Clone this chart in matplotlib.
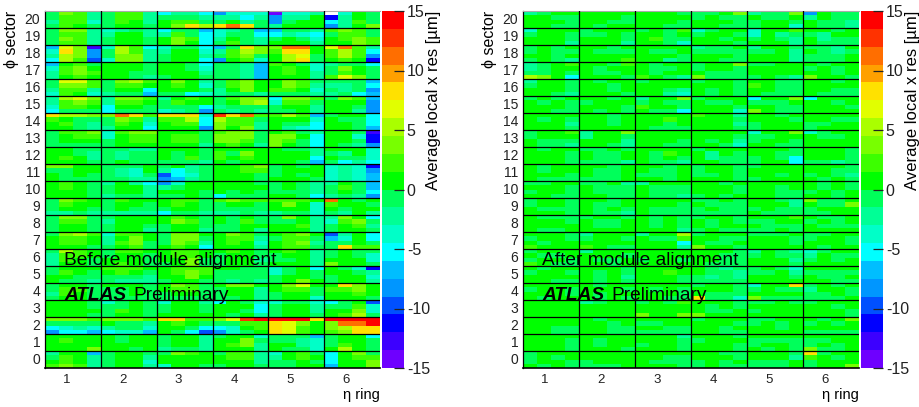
import numpy as np
import matplotlib
matplotlib.use('Agg')
import matplotlib.pyplot as plt
from matplotlib.colors import ListedColormap, BoundaryNorm
from matplotlib.transforms import ScaledTranslation

plt.rcParams['font.family'] = ['Liberation Sans', 'DejaVu Sans']
plt.rcParams['axes.unicode_minus'] = False

rings = [1, 2, 3, 4, 5, 6]
sectors = list(range(21))
bar_ticks = [-15, -10, -5, 0, 5, 10, 15]
bar_levels = [-15, -13.5, -12, -10.5, -9, -7.5, -6, -4.5, -3, -1.5, 0, 1.5, 3, 4.5, 6, 7.5, 9, 10.5, 12, 13.5, 15]
bar_colors = ['#6e00ff', '#3c00ff', '#0000ff', '#0050ff', '#0096ff', '#00beff', '#00ffff', '#00ffc8', '#00ff96', '#00ff5a',
              '#00ff00', '#3cff00', '#78ff00', '#aaff00', '#e1ff00', '#ffe100', '#ffa000', '#ff6e00', '#ff3200', '#ff0000']

# sector 20 first, then per ring its four rows from the top down
before_cells = [
    [[[-1,3,2,-2],[-1,2,2,-2],[-2,2,2,-4],[-1,2,0,-1]],[[-1,2,2,-2],[-1,2,2,-2],[-1,2,0,-2],[-1,0,0,-1]],[[-5,-2,-2,-5],[-1,-1,-1,-2],[0,2,2,-1],[0,3,8,5]],[[-8,-4,-4,-4],[-2,-2,-5,-2],[-1,0,-2,-1],[8,11,8,-1]],[[-14,-4,-4,-2],[-8,-2,-2,0],[-8,-1,0,0],[-2,0,0,0]],[[16,-4,0,-1],[-11,-2,0,-1],[-5,-2,2,-1],[-8,-2,0,3]]],
    [[[-1,3,3,-2],[-1,2,2,-2],[-1,3,2,-2],[-1,2,2,-2]],[[-4,-2,-1,-2],[-2,0,0,-2],[-1,0,0,-1],[-1,0,0,-1]],[[-5,-1,-1,-7],[-2,2,-1,-5],[0,3,2,-5],[0,3,0,-5]],[[-4,-2,-1,-7],[-4,-1,-1,-5],[-2,0,-1,-2],[-1,2,-1,-2]],[[-7,-1,-1,-2],[-5,-2,-4,-5],[-1,0,-1,-4],[0,0,0,-2]],[[2,3,2,-1],[-1,2,2,-1],[0,2,3,2],[0,0,3,2]]],
    [[[-7,7,3,-13],[-4,8,3,-8],[-2,5,3,-8],[-5,5,2,-10]],[[-4,5,2,-5],[-1,5,2,-2],[-1,3,3,-2],[-4,3,3,-2]],[[-4,-1,-1,-5],[-2,0,0,-4],[-1,0,0,-2],[-1,0,0,-5]],[[-7,-1,8,3],[-2,2,5,3],[-1,2,3,-1],[-8,0,2,-4]],[[3,11,11,0],[2,8,8,0],[0,5,7,-1],[0,5,8,-1]],[[7,11,2,-2],[2,5,2,-5],[2,5,2,-8],[0,2,0,-11]]],
    [[[-7,0,2,-1],[-4,2,3,0],[-2,2,3,2],[-2,0,2,0]],[[0,0,0,-1],[0,0,0,-1],[0,0,-1,-1],[0,0,-1,-2]],[[0,0,-1,-5],[0,0,-1,-4],[0,0,0,-2],[-1,0,0,-1]],[[-1,-1,-2,-7],[-1,-1,-2,-7],[-1,-1,-2,-7],[-1,-1,-2,-7]],[[2,0,-1,-4],[0,2,0,-4],[0,2,0,-2],[0,0,0,-2]],[[-2,-1,-1,-5],[-1,3,0,-1],[-1,2,0,-1],[2,7,3,-1]]],
    [[[-1,7,7,2],[-1,3,3,2],[-2,2,2,-2],[-4,2,0,-4]],[[-1,3,5,2],[-1,2,2,0],[-1,0,0,-5],[-2,-1,-1,-7]],[[0,3,0,-2],[0,2,0,-4],[0,0,0,-1],[-1,-1,-5,-4]],[[-1,2,3,0],[-1,2,3,0],[-2,0,3,0],[-2,-1,-1,-2]],[[0,3,2,-1],[0,3,2,-2],[2,2,0,-4],[-1,-1,-1,-2]],[[-1,-1,-1,-7],[-2,-2,-1,-5],[-1,-2,-1,-8],[-2,-1,-5,-7]]],
    [[[-2,5,7,3],[-2,2,3,2],[-4,2,2,0],[-5,-1,-1,-1]],[[-2,3,3,2],[-2,2,2,0],[-5,0,0,-1],[-5,-1,-1,-1]],[[-2,0,2,0],[-1,2,0,0],[-1,-1,-1,-5],[-4,-2,-1,-8]],[[-1,2,3,3],[-1,0,3,5],[-2,-1,-1,-1],[-1,-2,-1,-2]],[[-5,3,3,2],[-4,2,2,-1],[-1,0,0,-2],[-1,-1,0,-2]],[[-1,3,2,-7],[0,0,0,-8],[0,0,-1,-8],[0,0,-2,-8]]],
    [[[8,5,5,3],[2,0,-1,-1],[0,2,-1,-2],[0,0,-1,-2]],[[3,11,8,2],[-1,3,2,-2],[-1,2,0,-4],[-2,0,0,-5]],[[8,8,8,-4],[2,2,5,-5],[0,2,2,-5],[0,0,0,-8]],[[13,8,11,2],[5,2,2,-1],[3,2,2,-2],[3,0,3,-2]],[[2,5,2,-7],[0,0,0,-4],[0,-1,-1,-5],[0,-2,-4,-5]],[[-1,0,0,-5],[0,-1,-1,-5],[0,0,-1,-5],[0,0,-1,-7]]],
    [[[-1,2,2,3],[-1,0,2,2],[-1,0,0,0],[-1,-1,-1,-1]],[[-4,2,3,3],[-4,0,2,2],[-1,0,2,2],[-1,0,0,0]],[[0,0,0,-1],[0,2,2,-1],[0,2,2,-1],[0,0,0,-2]],[[2,3,3,-1],[3,3,3,-1],[4,3,2,-1],[0,2,0,-2]],[[0,2,-1,-2],[3,3,0,-5],[3,2,-1,-5],[3,0,-1,-5]],[[0,0,-1,-13],[0,0,-4,-12],[0,0,-1,-12],[0,-1,-2,-8]]],
    [[[0,0,-1,-1],[0,0,-1,-2],[0,2,0,-2],[0,0,0,-1]],[[-1,-1,-2,-2],[-1,-2,-1,-1],[-1,-2,-1,-1],[-1,0,-1,-1]],[[0,0,0,-1],[0,-1,0,-1],[0,-1,2,-1],[-1,-1,-1,-2]],[[0,0,0,0],[2,-1,3,0],[2,0,2,0],[0,-1,0,0]],[[0,-1,-1,-2],[0,0,0,-2],[0,0,0,-5],[0,0,-1,-7]],[[0,0,0,-4],[-1,-2,0,-4],[0,-1,-1,-4],[-1,-5,-2,-5]]],
    [[[3,3,0,0],[-1,-1,0,0],[0,-1,0,-1],[0,-1,-1,-1]],[[-1,-1,-1,0],[-1,-2,-4,0],[-1,-2,-4,-1],[-1,-1,-2,-2]],[[-1,0,-2,-1],[-2,-5,-2,-1],[-10,-5,-4,-1],[-8,-7,-2,-1]],[[0,0,2,3],[0,0,2,2],[0,0,0,-1],[0,0,0,-1]],[[-1,0,-1,0],[-1,0,0,0],[-1,0,-1,0],[0,0,0,-1]],[[-4,-2,-4,-11],[-4,-2,-4,-8],[-4,-2,-4,-7],[-4,-2,-4,-7]]],
    [[[0,2,0,-1],[0,2,0,-1],[0,0,0,-1],[0,0,0,-1]],[[-2,0,-2,-5],[-1,0,0,-2],[-1,0,0,-2],[-2,-1,-1,-2]],[[-8,-4,0,0],[-2,-1,0,0],[0,0,0,-1],[-1,-1,0,-1]],[[0,0,0,-1],[0,0,0,0],[0,-1,0,-1],[-5,-1,-1,-1]],[[-1,0,-1,-2],[-1,0,-1,-2],[-1,-1,-1,-2],[0,0,-1,-5]],[[-2,0,-1,-7],[-1,2,-1,-7],[-1,0,-1,-5],[-2,-1,-2,-8]]],
    [[[-1,3,2,0],[-1,2,0,0],[-1,0,0,-1],[-2,-2,-1,-2]],[[-1,2,0,0],[-1,0,0,-1],[-1,0,-1,-1],[-2,-2,-2,-2]],[[0,2,2,-1],[0,2,0,-1],[-1,0,0,-1],[-5,-1,-1,-2]],[[2,3,2,2],[-1,0,0,-1],[-1,-1,-1,-1],[-2,-2,-1,-2]],[[2,2,2,0],[0,3,0,-4],[0,0,0,-4],[-2,-1,-1,-4]],[[11,0,-1,0],[2,0,0,-1],[0,-1,0,0],[-1,-2,0,-2]]],
    [[[-1,3,3,-1],[-1,2,2,-1],[-1,0,0,-1],[-1,0,0,-1]],[[-1,0,0,0],[-2,0,0,0],[-1,0,0,-1],[-1,0,0,-2]],[[0,2,0,-1],[0,3,2,-1],[-1,0,0,-1],[-1,0,0,-2]],[[0,-1,0,-1],[0,-1,2,-1],[-1,-1,0,0],[-1,-1,0,-2]],[[-1,3,0,-2],[-1,-1,0,-2],[0,0,2,-2],[0,0,0,-2]],[[-2,3,0,-5],[-4,2,3,-1],[-1,0,2,-2],[-1,0,0,-1]]],
    [[[-1,3,5,2],[0,2,2,0],[0,2,2,0],[0,0,0,-1]],[[-4,2,2,0],[-2,0,3,0],[-2,2,3,-1],[-1,0,2,-1]],[[-1,3,3,0],[-1,3,3,-1],[-1,3,2,-2],[0,2,0,-5]],[[0,3,2,-1],[0,2,2,-2],[0,2,0,-4],[0,0,0,-2]],[[0,2,3,0],[-1,2,2,-1],[0,2,3,-2],[0,2,2,-1]],[[-10,-2,0,-5],[-7,-4,0,-5],[-1,-1,0,-1],[-1,8,2,2]]],
    [[[-1,5,2,0],[-2,2,2,0],[-2,2,0,-1],[-2,0,0,-1]],[[-1,2,2,0],[-1,0,0,-1],[0,0,0,-1],[0,2,0,-1]],[[0,2,2,0],[0,2,2,0],[0,0,3,-1],[-1,0,3,-1]],[[0,2,0,-1],[-1,0,0,-1],[-1,0,0,-2],[-1,0,0,-1]],[[0,2,0,-2],[-1,0,0,-2],[-1,-1,0,-2],[0,0,0,-2]],[[-1,0,-1,-1],[-1,0,-1,-4],[0,0,0,-4],[3,0,0,-1]]],
    [[[-1,0,0,0],[-1,2,0,-1],[0,0,-1,-1],[0,-1,-1,-2]],[[2,2,2,0],[0,2,0,-1],[-1,-1,-1,-2],[-1,-2,-2,-2]],[[0,2,2,2],[0,2,3,2],[0,0,3,0],[-1,0,0,-1]],[[0,0,-1,-1],[-1,-1,-1,-1],[-1,-1,-1,-1],[-1,-2,-1,-2]],[[-4,-1,0,-5],[-4,-1,0,-1],[-1,0,0,-1],[-1,0,3,0]],[[0,-1,-4,-11],[0,0,-1,-2],[-1,0,0,-4],[-1,0,0,-2]]],
    [[[-1,0,0,-1],[-1,2,2,-1],[-2,2,0,-1],[-1,0,0,-1]],[[0,0,0,-1],[-1,-1,0,-1],[-1,-1,0,-1],[-1,-1,-1,-1]],[[0,3,2,-1],[0,2,2,-1],[-1,0,0,-1],[-1,-1,-1,-1]],[[0,3,3,0],[-1,0,0,-2],[-1,0,0,-2],[-1,-1,0,-2]],[[0,3,7,0],[0,2,2,-1],[-1,0,0,-1],[-1,0,0,-4]],[[0,8,3,0],[2,2,3,0],[0,0,2,0],[0,0,0,-1]]],
    [[[0,0,0,-1],[0,0,0,-1],[0,0,0,0],[0,0,0,-1]],[[-4,-1,0,-1],[-1,-1,0,-1],[-1,2,0,-1],[-1,0,0,-1]],[[-4,0,0,-2],[-1,0,0,-1],[-1,0,0,-1],[0,0,0,0]],[[-5,0,-1,-4],[0,0,0,-5],[0,0,-1,-5],[0,-1,0,-2]],[[-4,-1,-1,-4],[-1,0,0,-2],[-1,0,0,-2],[-1,0,0,-1]],[[-5,-1,0,-10],[-1,-1,2,-4],[0,0,3,-4],[0,2,5,-1]]],
    [[[3,3,3,2],[-1,-1,-1,-1],[-5,-4,-2,-4],[-8,-5,-5,-7]],[[3,3,3,2],[0,-1,-1,-2],[-2,-1,-1,-4],[-5,-4,-4,-7]],[[8,8,2,2],[0,2,0,-1],[0,0,-1,-5],[0,-1,-5,-10]],[[3,7,13,14],[-1,-1,2,2],[-5,-4,0,2],[-8,-4,-1,0]],[[14,14,14,8],[8,7,3,0],[8,7,2,0],[8,7,2,0]],[[14,14,14,14],[3,11,11,14],[3,5,8,8],[2,3,8,8]]],
    [[[0,0,0,0],[0,2,0,0],[0,0,0,0],[0,0,0,3]],[[0,-1,0,0],[0,-1,0,0],[0,0,0,0],[0,0,-1,0]],[[-1,0,0,-2],[-1,0,0,-2],[-1,0,0,-2],[-2,-1,-1,-2]],[[-1,0,0,-4],[0,0,3,-1],[0,2,3,-2],[0,0,0,-2]],[[-1,-1,-1,-7],[-1,-1,-2,-4],[0,0,-2,-4],[0,-1,-1,-4]],[[-1,0,0,-5],[-1,0,0,-1],[-1,2,0,-1],[0,5,0,-1]]],
    [[[-2,0,0,-7],[-1,2,0,-2],[0,2,0,-2],[2,3,2,-2]],[[-1,0,0,-1],[-1,0,0,-2],[-1,0,0,-4],[-1,0,0,-2]],[[-1,3,2,0],[0,0,0,0],[0,0,0,0],[-4,0,0,-1]],[[-1,2,2,-2],[0,2,2,-2],[0,0,0,-2],[-1,0,0,-1]],[[-4,0,2,-1],[-2,0,2,0],[-1,-1,0,-1],[-1,-1,0,0]],[[-5,0,3,-1],[-5,0,2,2],[-5,0,0,3],[-7,0,0,3]]],
]

after_cells = [
    [[[-2,-1,0,0],[0,0,-1,-1],[0,0,0,-1],[0,0,-1,-1]],[[0,0,0,0],[0,0,0,-1],[0,0,-1,-1],[0,-1,0,0]],[[0,0,0,-1],[0,0,0,0],[0,0,0,-1],[0,0,-1,-1]],[[-1,-1,0,3],[-1,0,-1,-1],[0,0,0,-1],[0,0,-1,-1]],[[-2,-1,-1,3],[0,-1,-1,0],[-1,0,0,-1],[-1,1,0,-4]],[[-8,0,-1,-1],[-2,0,-1,-1],[0,-1,-1,-2],[0,-1,-1,-2]]],
    [[[-4,0,1,0],[-1,0,0,-1],[0,0,1,-1],[0,1,0,-2]],[[-1,0,0,0],[-1,-1,0,-1],[0,0,0,-1],[0,0,0,-2]],[[-1,0,-1,2],[0,1,-1,0],[0,2,-1,-1],[0,1,-1,-4]],[[-4,-1,0,0],[-1,0,0,-1],[0,0,-1,0],[0,0,0,-1]],[[-4,0,0,2],[-4,0,-2,-1],[-1,0,-1,-2],[0,0,0,-2]],[[0,0,-1,0],[-1,-2,0,0],[0,-2,-1,-1],[0,-1,-1,-1]]],
    [[[-1,0,-1,0],[-1,0,-1,-1],[0,0,-1,0],[-1,0,-1,-2]],[[1,0,-1,0],[0,-1,-1,-1],[0,0,0,1],[0,0,0,2]],[[0,0,0,0],[0,-1,-1,0],[0,0,0,-1],[0,0,-2,-1]],[[-2,-1,-1,0],[-1,-1,-1,-1],[0,0,0,-1],[0,0,-1,-1]],[[-2,0,0,-1],[-1,-1,0,-2],[0,1,1,-2],[0,1,0,-2]],[[-1,-1,-2,0],[0,-1,-2,-1],[-1,-1,-1,1],[-1,-1,-1,1]]],
    [[[-2,-1,0,2],[-2,-1,0,0],[-1,-1,0,-1],[5,3,0,-5]],[[0,0,-1,2],[0,-1,0,0],[0,-1,-1,0],[0,0,0,-1]],[[0,-1,0,0],[0,-1,-1,0],[0,-1,0,0],[2,0,-1,-2]],[[-1,0,0,3],[-1,0,0,-1],[0,-1,-1,-1],[3,-1,-1,-1]],[[-1,-1,0,1],[0,0,1,0],[0,0,1,0],[-1,0,-1,-2]],[[0,-1,0,0],[-1,0,-1,0],[0,0,-1,0],[3,0,0,-1]]],
    [[[-2,0,0,-1],[-1,0,0,-1],[0,0,0,-1],[0,0,-1,-2]],[[0,-1,0,1],[0,0,-1,0],[0,0,-1,0],[0,0,0,-1]],[[-1,0,0,0],[0,0,0,0],[0,0,-1,-2],[0,0,-2,-4]],[[-1,0,0,-1],[0,0,0,-1],[0,-1,0,-1],[0,-1,0,-1]],[[0,0,-1,-1],[2,0,-1,-1],[0,0,-1,-1],[0,-1,-1,-1]],[[1,0,-1,0],[1,0,0,0],[0,0,-1,-1],[0,-1,-1,-1]]],
    [[[-1,0,-1,0],[0,-1,0,-1],[0,0,0,-1],[0,0,-1,-1]],[[0,0,-1,0],[-1,0,0,0],[0,0,0,-1],[0,-1,0,-1]],[[-2,0,0,3],[-1,0,-1,-1],[2,0,0,-1],[1,-1,-1,-5]],[[-1,0,0,0],[0,-1,-1,0],[0,0,0,-1],[0,0,0,-4]],[[-5,0,0,3],[-1,-1,-1,0],[0,0,-1,-1],[3,0,-1,-1]],[[-5,0,0,0],[0,0,-1,0],[1,0,0,-1],[1,0,0,0]]],
    [[[0,0,0,0],[0,-1,0,-1],[0,0,0,-2],[0,0,0,-1]],[[0,0,-1,0],[0,0,-1,0],[0,0,-1,0],[0,0,0,0]],[[0,0,0,0],[0,0,2,0],[0,0,-1,0],[0,-1,-1,-1]],[[2,0,0,-2],[0,0,0,-1],[0,0,0,-2],[0,0,0,-1]],[[0,0,-1,0],[0,0,0,-1],[-1,0,0,1],[-1,0,0,0]],[[1,0,0,0],[0,0,-1,-1],[-1,-1,0,0],[-1,0,0,0]]],
    [[[-1,0,0,2],[-1,0,0,0],[0,-1,-1,-1],[0,-1,-1,-2]],[[-2,0,0,3],[-2,0,0,-1],[0,0,0,-2],[1,0,-1,-2]],[[0,0,0,0],[0,0,0,0],[0,0,0,-1],[0,0,-1,-1]],[[0,0,0,1],[0,0,0,-1],[0,-1,0,-2],[0,0,-1,-4]],[[-4,0,0,3],[-1,-1,0,0],[-1,0,0,-1],[0,0,-1,-1]],[[-4,-1,0,0],[0,-1,-1,0],[0,0,0,1],[0,0,1,0]]],
    [[[0,-1,0,0],[0,0,0,-1],[0,0,0,-1],[0,0,0,-1]],[[-1,-1,0,-1],[0,-1,-1,0],[0,-1,-1,0],[-1,-1,-1,-2]],[[0,0,0,0],[0,-1,2,0],[0,-1,0,-1],[0,-1,-1,-2]],[[-1,0,0,0],[0,-2,0,-1],[0,-2,-1,-1],[0,0,-1,-1]],[[0,0,0,-1],[0,0,-1,-1],[-1,0,-1,-5],[-1,0,0,-5]],[[0,0,0,-1],[0,0,1,-1],[0,0,0,-1],[-1,-1,-2,-1]]],
    [[[0,-1,0,0],[0,-1,0,0],[0,0,0,-1],[0,-1,-1,-1]],[[0,0,-1,0],[0,-1,-1,0],[0,-1,-1,0],[-1,-1,-1,1]],[[0,0,-1,0],[0,-1,-1,0],[-1,-1,-1,0],[0,0,-1,0]],[[-1,0,0,-1],[-1,0,0,-1],[-1,-1,0,-1],[0,0,0,-1]],[[-1,0,0,0],[0,0,0,0],[0,0,-1,0],[-1,0,0,0]],[[0,0,0,-1],[0,0,-1,-1],[-1,0,-1,-2],[0,-1,0,-1]]],
    [[[-1,-1,0,0],[0,0,0,-1],[-1,0,0,-1],[0,0,-1,-1]],[[-1,-1,0,-2],[0,-1,-1,-1],[0,-1,-1,-1],[0,0,-1,-1]],[[-2,0,0,0],[0,-1,-1,-1],[0,-1,-1,-1],[0,-1,-1,-2]],[[0,0,-1,0],[0,0,0,-1],[0,0,0,-1],[-1,0,-1,0]],[[0,0,0,0],[1,0,-1,0],[0,0,-1,-1],[0,0,-1,-1]],[[0,-1,0,-1],[0,-1,0,-1],[-1,0,-1,0],[0,0,-1,0]]],
    [[[-1,0,0,-1],[-1,0,0,-1],[0,-1,-1,-1],[0,0,0,-1]],[[0,0,-1,0],[0,-1,-1,0],[0,-1,0,-1],[0,-1,-1,-2]],[[0,0,0,0],[0,0,0,-1],[0,-1,-1,-1],[0,-1,-1,-1]],[[-1,-1,0,-1],[0,-1,-1,-1],[-1,0,-1,-1],[-1,-1,-1,-1]],[[0,0,-1,-2],[0,0,0,-2],[-1,0,-1,-1],[0,-1,-1,-1]],[[3,-1,-1,0],[0,-1,-1,3],[-1,0,0,1],[-1,-1,0,0]]],
    [[[0,-1,-1,-1],[0,0,0,-1],[0,0,0,0],[0,-1,-1,0]],[[-1,0,0,-1],[0,-1,-1,0],[0,-1,-1,0],[0,0,0,0]],[[0,-1,0,-1],[0,-1,0,-1],[0,-1,1,-1],[0,0,0,-2]],[[-1,0,1,-1],[0,-1,0,-1],[0,-1,0,0],[-1,0,-1,-1]],[[0,0,0,2],[-1,-1,0,0],[0,-1,-1,-1],[-1,-1,0,-1]],[[0,-1,-1,0],[-1,0,-1,1],[0,-1,-1,-1],[0,0,0,0]]],
    [[[0,0,0,-1],[-1,0,0,-1],[0,-1,0,0],[2,0,0,0]],[[-2,0,0,1],[-1,0,0,-1],[0,0,0,0],[2,0,-1,-1]],[[-2,0,0,5],[0,-1,-1,2],[1,0,0,-5],[0,0,0,-2]],[[-1,0,0,1],[0,0,-1,-1],[0,-1,-1,0],[3,0,0,-1]],[[-1,-1,-1,0],[0,0,0,-1],[0,1,0,-1],[0,0,0,0]],[[-1,-1,0,0],[-1,0,0,-1],[0,0,0,-1],[0,-1,0,1]]],
    [[[-1,0,0,0],[0,-1,-1,0],[-1,0,0,-1],[2,0,-1,-1]],[[-2,0,0,0],[0,0,0,-1],[0,-1,-1,0],[0,0,-1,0]],[[0,0,0,0],[0,0,0,0],[-1,0,0,-1],[0,0,0,0]],[[0,0,0,-1],[0,0,-1,-1],[0,0,-1,-1],[0,-1,-1,-1]],[[-2,0,-1,-2],[-1,0,-1,-1],[0,0,0,-2],[0,0,0,-1]],[[-4,-1,0,0],[-2,0,-1,-1],[-1,0,-1,0],[0,1,0,0]]],
    [[[0,-1,0,0],[-1,0,0,-1],[0,0,0,0],[0,0,-1,-1]],[[0,0,0,-1],[0,-1,0,-1],[0,-1,0,-2],[0,-1,0,-1]],[[0,0,0,0],[0,0,2,0],[0,0,0,-1],[0,0,0,-1]],[[0,-1,-2,-1],[0,-1,-1,-2],[-1,-2,-1,-2],[-1,-1,-1,-1]],[[-1,0,-1,-4],[-1,-1,0,-2],[0,0,0,-1],[0,0,0,0]],[[0,0,0,0],[-1,-1,-1,-1],[0,-1,-1,0],[0,0,-1,-1]]],
    [[[0,0,0,0],[-1,0,0,-1],[0,0,0,-1],[0,-1,0,0]],[[0,-1,0,0],[0,0,0,-1],[0,-1,0,0],[0,-1,0,-1]],[[0,0,0,0],[0,-1,0,-1],[0,0,0,-1],[0,0,-1,-1]],[[-1,0,0,-1],[0,0,0,-1],[0,-1,-1,-1],[8,-1,-1,-4]],[[-4,0,0,8],[-1,0,-1,-1],[0,0,0,0],[3,-1,-1,-1]],[[-1,0,-1,0],[-2,0,0,-1],[-1,-1,0,-1],[-1,-1,-1,0]]],
    [[[0,0,0,0],[0,0,0,0],[0,0,0,0],[0,0,0,0]],[[-2,-1,0,0],[0,0,1,0],[0,1,0,0],[0,1,0,0]],[[-1,0,-1,2],[0,0,0,0],[0,0,0,0],[3,0,0,3]],[[0,0,0,-1],[0,-1,0,-1],[0,-1,-1,0],[3,0,0,0]],[[-1,-1,0,-1],[0,0,0,0],[-1,0,0,0],[0,0,0,0]],[[-1,0,0,0],[0,0,-1,0],[0,0,0,-1],[0,0,0,-1]]],
    [[[0,0,0,0],[0,0,0,0],[0,0,-1,-1],[0,0,-1,-1]],[[0,-1,0,0],[0,0,-1,0],[0,0,-1,-1],[0,0,-1,-1]],[[0,0,0,0],[-1,-1,0,0],[0,0,-1,-1],[-1,-1,-1,-1]],[[-1,0,0,0],[0,0,0,-1],[0,0,-1,0],[0,0,-1,-1]],[[-1,-1,0,0],[-1,0,-1,0],[0,0,-1,0],[0,0,0,0]],[[0,-1,0,3],[-1,0,-1,1],[0,0,0,0],[-1,-1,-1,-1]]],
    [[[0,0,0,0],[0,0,0,-1],[0,0,0,-1],[0,0,0,-1]],[[0,0,0,0],[0,-1,0,0],[0,-1,0,0],[0,0,0,-1]],[[0,0,0,-2],[0,0,0,-1],[-1,0,0,-1],[0,0,0,-1]],[[0,0,0,-1],[-1,1,0,0],[0,1,0,-1],[1,0,1,-1]],[[0,0,0,0],[-1,-1,-1,-1],[-1,0,1,-1],[0,-1,0,-1]],[[0,0,0,0],[-1,-1,0,0],[-1,0,-1,0],[3,-1,-1,0]]],
    [[[-1,0,0,0],[-1,0,-1,0],[-1,0,0,-1],[0,-1,0,-1]],[[0,0,0,0],[0,0,0,0],[-1,0,0,0],[-1,-1,-1,0]],[[0,0,0,0],[0,0,-1,-1],[0,-1,-1,-1],[0,0,0,-1]],[[0,0,-1,-1],[0,0,0,-1],[-1,0,-1,0],[-1,0,-1,-1]],[[0,0,0,-1],[0,0,0,-2],[-1,-1,-1,1],[-1,-1,-1,1]],[[8,-1,0,0],[2,0,-1,0],[-1,0,0,1],[-1,0,0,3]]],
]

W, H = 919, 407


def to_grid(cells):
    # sector, ring, row, column -> rows bottom up, columns left to right
    arr = np.array(cells).transpose(0, 2, 1, 3).reshape(84, 24)
    return arr[::-1]


def add_panel(cells, title, left, right, bar_left, bar_right):
    fig = plt.gcf()
    top, bottom = 11, 368
    ax = fig.add_axes([left / W, 1 - bottom / H, (right - left) / W, (bottom - top) / H])
    cax = fig.add_axes([bar_left / W, 1 - bottom / H, (bar_right - bar_left) / W, (bottom - top) / H])

    cmap = ListedColormap(bar_colors)
    cmap.set_over('white')
    norm = BoundaryNorm(bar_levels, cmap.N)
    x_edges = np.linspace(rings[0] - 0.5, rings[-1] + 0.5, 25)
    y_edges = np.linspace(sectors[0] - 0.5, sectors[-1] + 0.5, 85)
    mesh = ax.pcolormesh(x_edges, y_edges, to_grid(cells), cmap=cmap, norm=norm, antialiased=False)

    ax.set_xticks(rings)
    ax.set_yticks(sectors)
    ax.set_xticks(np.array(rings[:-1]) + 0.5, minor=True)
    ax.set_yticks(np.array(sectors[:-1]) + 0.5, minor=True)
    ax.tick_params(which='both', length=0)
    ax.tick_params(axis='x', labelsize=9.5, pad=4.5, colors='#222222')
    ax.tick_params(axis='y', labelsize=10, pad=3.5, colors='#222222')
    ax.grid(which='minor', color='black', linewidth=0.9)
    ax.set_axisbelow(False)

    # ring numbers sit a bit left of the ring centre, sector numbers a bit high
    for lab in ax.get_xticklabels():
        lab.set_transform(lab.get_transform() + ScaledTranslation(-6 / 100, 0, fig.dpi_scale_trans))
    for lab in ax.get_yticklabels():
        lab.set_transform(lab.get_transform() + ScaledTranslation(0, 1 / 100, fig.dpi_scale_trans))

    ax.spines['top'].set_color('#aaaaaa')
    ax.spines['right'].set_visible(False)
    ax.spines['left'].set_linewidth(0.9)
    ax.spines['bottom'].set_linewidth(1.2)
    ax.set_xlabel('η ring', fontsize=10.5, loc='right', labelpad=1)
    ax.set_ylabel('ϕ sector', fontsize=11.5, loc='top')
    ax.yaxis.set_label_coords(-0.0776, 1.0)

    ax.text(0.0575, 0.288, title, transform=ax.transAxes, fontsize=13.8, color='black')
    ax.text(0.0575, 0.19, 'ATLAS', transform=ax.transAxes, fontsize=13.8, color='black', fontweight='bold', fontstyle='italic')
    ax.text(0.2645, 0.19, 'Preliminary', transform=ax.transAxes, fontsize=13.8, color='black')

    bar = fig.colorbar(mesh, cax=cax, ticks=bar_ticks, spacing='proportional', drawedges=False)
    bar.outline.set_visible(False)
    bar.ax.minorticks_off()
    bar.ax.tick_params(direction='in', length=7, width=0.9, labelsize=11.5, pad=2, colors='#222222')
    bar.set_label('Average local x res [µm]', fontsize=12, loc='top', labelpad=-2.5)


def main():
    plt.figure(figsize=(W / 100, H / 100), dpi=100)
    add_panel(before_cells, 'Before module alignment', 45, 380, 382, 404)
    add_panel(after_cells, 'After module alignment', 523, 859, 861, 883)
    plt.savefig('out.png', dpi=100)


if __name__ == '__main__':
    main()
